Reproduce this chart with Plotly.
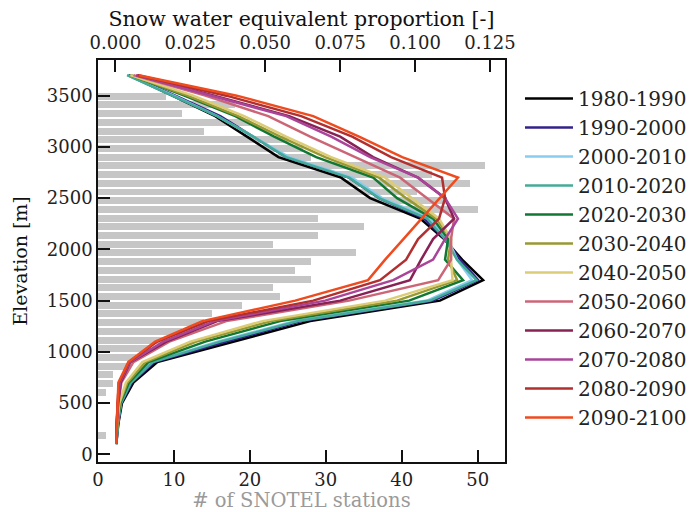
import plotly.graph_objects as go

# ---------------- data ----------------
# station histogram (elevation bin centres, m) and counts
bar_elev = [180 + 85 * i for i in range(40)]
bar_counts = [1, 0, 0, 0, 0, 1, 2, 2, 4, 5,
              7, 9, 11, 14, 15, 19, 24, 23, 28, 26,
              28, 34, 23, 29, 35, 29, 50, 46, 42, 49,
              44, 51, 28, 27, 25, 14, 20, 11, 18, 9]

# SWE proportion profile elevations (m)
line_elev = [100, 300, 500, 700, 900, 1100, 1300, 1500, 1700, 1900,
             2100, 2300, 2500, 2700, 2900, 3100, 3300, 3500, 3700]

periods = ["1980-1990", "1990-2000", "2000-2010", "2010-2020", "2020-2030",
           "2030-2040", "2040-2050", "2050-2060", "2060-2070", "2070-2080",
           "2080-2090", "2090-2100"]

colors = ["#000000", "#332288", "#88CCEE", "#44AA99", "#117733", "#999933",
          "#DDCC77", "#CC6677", "#882255", "#AA4499", "#B22F2F", "#EE4B1F"]

swe_1980 = [0.0003, 0.0010, 0.0022, 0.0060, 0.0140, 0.0397, 0.0650, 0.1083, 0.1227, 0.1157,
            0.1097, 0.1017, 0.0850, 0.0753, 0.0544, 0.0439, 0.0333, 0.0190, 0.0043]
swe_1990 = [0.0003, 0.0009, 0.0020, 0.0055, 0.0130, 0.0370, 0.0620, 0.1060, 0.1210, 0.1150,
            0.1100, 0.1030, 0.0880, 0.0780, 0.0570, 0.0460, 0.0350, 0.0200, 0.0045]
swe_2000 = [0.0003, 0.0008, 0.0018, 0.0050, 0.0120, 0.0340, 0.0600, 0.1040, 0.1190, 0.1140,
            0.1110, 0.1050, 0.0890, 0.0790, 0.0580, 0.0460, 0.0340, 0.0195, 0.0040]
swe_2010 = [0.0003, 0.0008, 0.0019, 0.0052, 0.0125, 0.0350, 0.0610, 0.1050, 0.1205, 0.1140,
            0.1100, 0.1040, 0.0880, 0.0780, 0.0570, 0.0460, 0.0340, 0.0190, 0.0039]
swe_2020 = [0.0003, 0.0007, 0.0016, 0.0045, 0.0110, 0.0300, 0.0550, 0.0980, 0.1160, 0.1100,
            0.1110, 0.1060, 0.0940, 0.0860, 0.0670, 0.0530, 0.0400, 0.0230, 0.0050]
swe_2030 = [0.0003, 0.0006, 0.0014, 0.0040, 0.0100, 0.0270, 0.0520, 0.0940, 0.1140, 0.1110,
            0.1120, 0.1070, 0.0970, 0.0880, 0.0700, 0.0550, 0.0410, 0.0240, 0.0050]
swe_2040 = [0.0003, 0.0006, 0.0013, 0.0035, 0.0090, 0.0250, 0.0490, 0.0900, 0.1125, 0.1120,
            0.1120, 0.1080, 0.0990, 0.0900, 0.0720, 0.0570, 0.0430, 0.0260, 0.0050]
swe_2050 = [0.0003, 0.0005, 0.0010, 0.0020, 0.0060, 0.0180, 0.0370, 0.0780, 0.1077, 0.1120,
            0.1120, 0.1130, 0.1040, 0.0950, 0.0800, 0.0650, 0.0510, 0.0300, 0.0060]
swe_2060 = [0.0003, 0.0004, 0.0009, 0.0018, 0.0050, 0.0170, 0.0340, 0.0750, 0.0983, 0.1020,
            0.1060, 0.1130, 0.1100, 0.1010, 0.0860, 0.0750, 0.0580, 0.0330, 0.0070]
swe_2070 = [0.0003, 0.0004, 0.0008, 0.0015, 0.0048, 0.0160, 0.0330, 0.0700, 0.0927, 0.1060,
            0.1100, 0.1143, 0.1100, 0.1010, 0.0850, 0.0720, 0.0570, 0.0320, 0.0070]
swe_2080 = [0.0003, 0.0004, 0.0007, 0.0012, 0.0045, 0.0140, 0.0310, 0.0660, 0.0883, 0.0970,
            0.1010, 0.1080, 0.1100, 0.1090, 0.0920, 0.0790, 0.0620, 0.0370, 0.0075]
swe_2090 = [0.0003, 0.0005, 0.0007, 0.0010, 0.0043, 0.0133, 0.0290, 0.0600, 0.0843, 0.0900,
            0.0961, 0.1022, 0.1083, 0.1143, 0.0957, 0.0813, 0.0660, 0.0405, 0.0078]

swe_series = [swe_1980, swe_1990, swe_2000, swe_2010, swe_2020, swe_2030,
              swe_2040, swe_2050, swe_2060, swe_2070, swe_2080, swe_2090]

top_ticks = [0.0, 0.025, 0.05, 0.075, 0.1, 0.125]
bottom_ticks = [0, 10, 20, 30, 40, 50]
elev_ticks = [0, 500, 1000, 1500, 2000, 2500, 3000, 3500]

# ---------------- figure ----------------
FONT = "DejaVu Serif"
fig = go.Figure()

fig.add_trace(go.Bar(
    y=bar_elev, x=bar_counts, orientation="h", width=68,
    marker=dict(color="#c6c6c6", line=dict(width=0)),
    xaxis="x", yaxis="y", showlegend=False, hoverinfo="skip"))

for name, col, vals in zip(periods, colors, swe_series):
    fig.add_trace(go.Scatter(
        x=vals, y=line_elev, mode="lines", name=name,
        line=dict(color=col, width=2.5),
        xaxis="x2", yaxis="y", legendgroup=name))

W, H = 693, 512
L, R, T, B = 97.5, 505, 60, 462.5

fig.update_layout(
    width=W, height=H,
    margin=dict(l=L, r=W - R, t=T, b=H - B, pad=0, autoexpand=False),
    paper_bgcolor="white", plot_bgcolor="white",
    font=dict(family=FONT, size=18, color="#222222"),
    bargap=0,
    showlegend=True,
    legend=dict(
        x=1.0368, y=0.953, xanchor="left", yanchor="top",
        font=dict(family=FONT, size=20, color="#222222"),
        tracegroupgap=0, bgcolor="rgba(0,0,0,0)", itemwidth=48),
    xaxis=dict(
        range=[0, 53.6], tickvals=bottom_ticks,
        ticks="inside", ticklen=12, tickwidth=2, tickcolor="#111",
        showline=True, linecolor="#111", linewidth=1.5, mirror=False,
        showgrid=False, zeroline=False, ticklabelstandoff=1,
        title=dict(text="# of SNOTEL stations", font=dict(size=19.5, color="#9a9a9a"), standoff=6),
        tickfont=dict(size=18, color="#222222")),
    xaxis2=dict(
        range=[-0.0058, 0.1300], tickvals=top_ticks, tickformat=".3f",
        overlaying="x", side="top", anchor="y",
        ticks="inside", ticklen=12, tickwidth=2, tickcolor="#111",
        showline=True, linecolor="#111", linewidth=1.5,
        showgrid=False, zeroline=False, ticklabelstandoff=2,
        title=dict(text="Snow water equivalent proportion [-]", font=dict(size=20.5, color="#111"), standoff=0),
        tickfont=dict(size=18, color="#222222")),
    yaxis=dict(
        range=[-75, 3848], tickvals=elev_ticks,
        ticks="inside", ticklen=12, tickwidth=2, tickcolor="#111",
        showline=True, linecolor="#111", linewidth=1.5, mirror=True,
        showgrid=False, zeroline=False,
        title=dict(text="Elevation [m]", font=dict(size=19, color="#111"), standoff=14),
        tickfont=dict(size=18, color="#222222")),
)

fig.write_html("out.html")
